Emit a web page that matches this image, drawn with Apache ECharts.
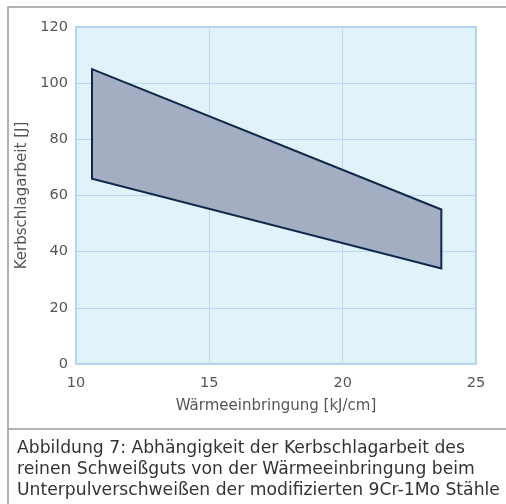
<!DOCTYPE html>
<html><head><meta charset="utf-8">
<script src="https://cdn.jsdelivr.net/npm/echarts@6/dist/echarts.min.js"></script>
<style>html,body{margin:0;padding:0;background:#fff;}#c{width:506px;height:504px;}</style>
</head><body><div id="c"></div>
<script>
const xTicks = [10, 15, 20, 25];
const yTicks = [0, 20, 40, 60, 80, 100, 120];
const bandPoints = [[10.6, 105], [23.7, 55], [23.7, 34], [10.6, 66]];
const xTitle = 'Wärmeeinbringung [kJ/cm]';
const yTitle = 'Kerbschlagarbeit [J]';
const captionLines = [
  'Abbildung 7: Abhängigkeit der Kerbschlagarbeit des',
  'reinen Schweißguts von der Wärmeeinbringung beim',
  'Unterpulverschweißen der modifizierten 9Cr-1Mo Stähle'
];
const FONT = '"DejaVu Sans"';
const chart = echarts.init(document.getElementById('c'), null, {renderer: 'canvas'});
chart.setOption({
  animation: false,
  backgroundColor: '#fff',
  grid: {left: 76, top: 27, right: 30, bottom: 140, show: true, backgroundColor: '#e1f2fa', borderColor: '#aed0ee', borderWidth: 2},
  xAxis: {
    type: 'value', min: xTicks[0], max: xTicks[xTicks.length - 1], interval: 5,
    axisLine: {show: false}, axisTick: {show: false},
    splitLine: {show: true, lineStyle: {color: '#b8d7f1', width: 1}},
    axisLabel: {color: '#555', fontSize: 14.5, fontFamily: FONT, margin: 12},
    name: xTitle, nameLocation: 'middle', nameGap: 35,
    nameTextStyle: {color: '#555', fontSize: 15, fontFamily: FONT}
  },
  yAxis: {
    type: 'value', min: yTicks[0], max: yTicks[yTicks.length - 1], interval: 20,
    axisLine: {show: false}, axisTick: {show: false},
    splitLine: {show: true, lineStyle: {color: '#b8d7f1', width: 1}},
    axisLabel: {color: '#555', fontSize: 14.5, fontFamily: FONT, margin: 8},
    name: yTitle, nameLocation: 'middle', nameGap: 38,
    nameTextStyle: {color: '#555', fontSize: 15, fontFamily: FONT}
  },
  series: [{
    type: 'custom',
    data: [0],
    renderItem: function (params, api) {
      const pts = bandPoints.map(p => api.coord(p));
      return {
        type: 'polygon',
        shape: {points: pts},
        style: {fill: '#a3aec2', stroke: '#0d2848', lineWidth: 2, lineJoin: 'miter'}
      };
    }
  }],
  graphic: [
    {type: 'rect', shape: {x: 8, y: 7, width: 520, height: 520}, style: {fill: null, stroke: '#999', lineWidth: 1.5}, z: 100, silent: true},
    {type: 'line', shape: {x1: 8, y1: 429, x2: 506, y2: 429}, style: {stroke: '#999', lineWidth: 1.5}, z: 100},
    ...captionLines.map((t, i) => ({
      type: 'text', left: 17, top: 440 + i * 21,
      style: {text: t, fill: '#333', font: '17.2px ' + FONT}
    }))
  ]
});
</script></body></html>
